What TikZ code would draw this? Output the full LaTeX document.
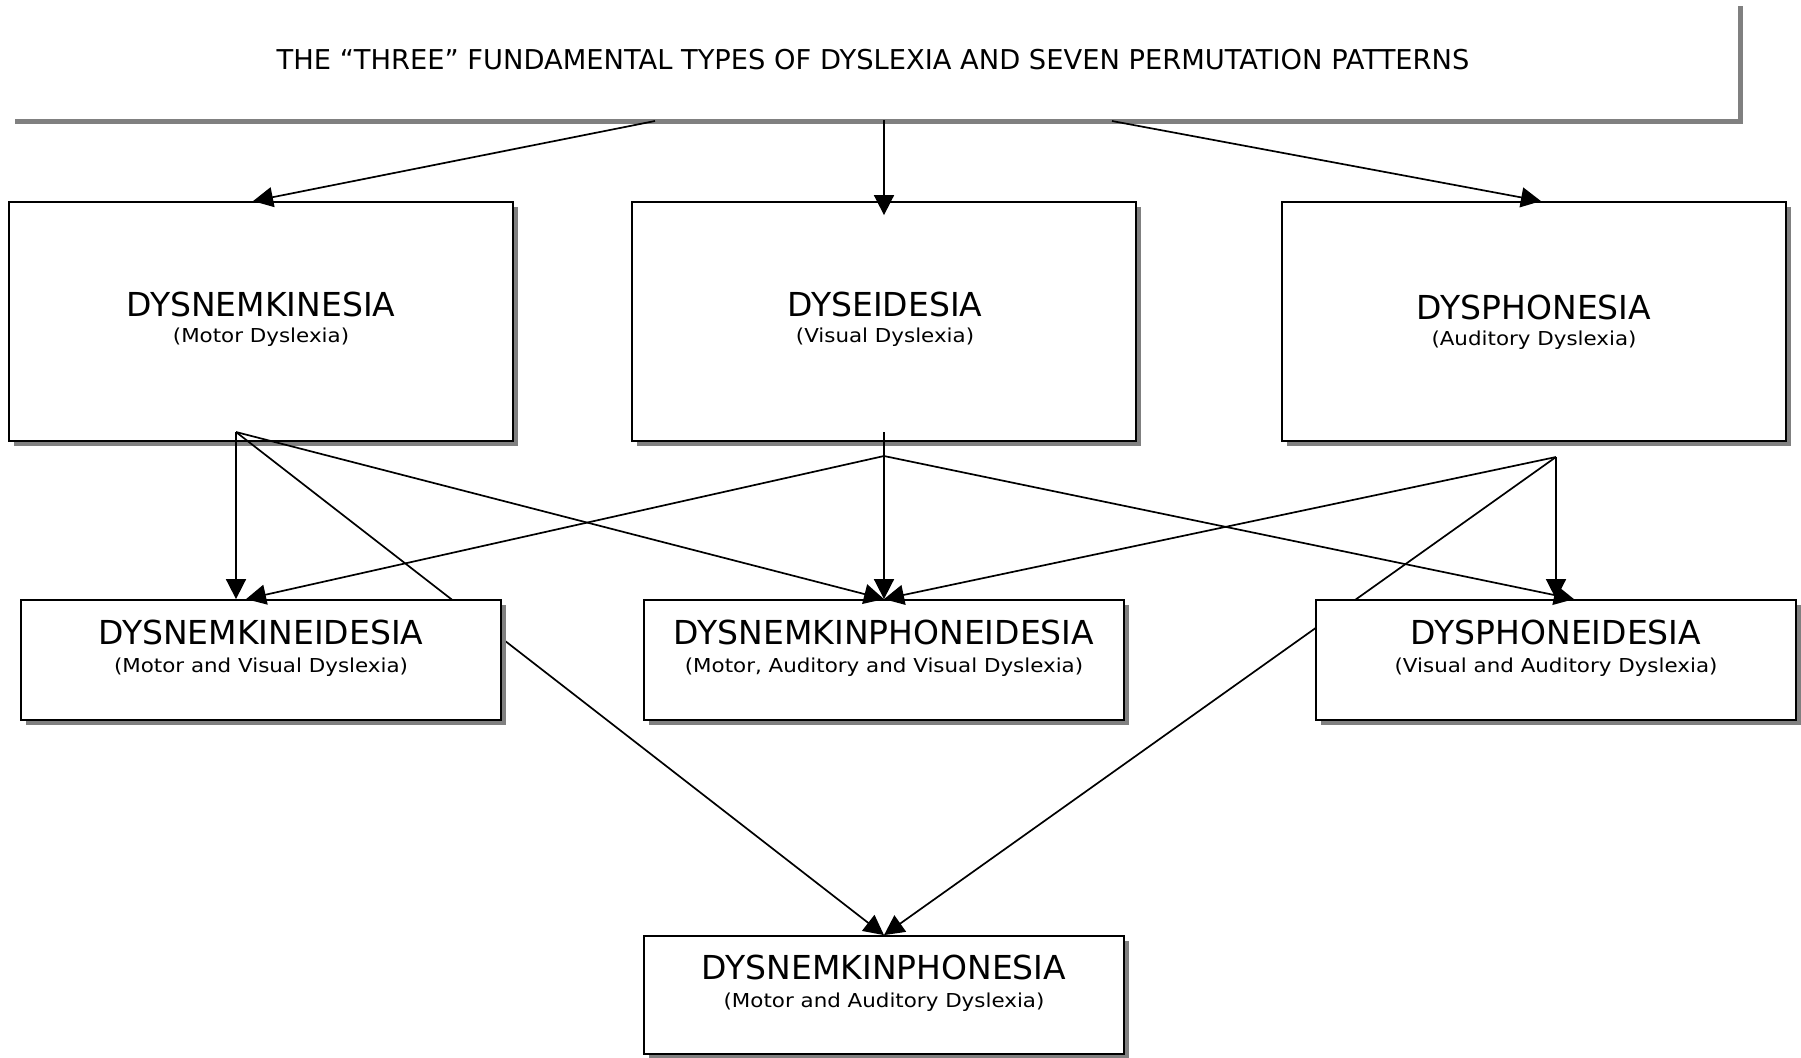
\documentclass[tikz,border=0pt]{standalone}
\usepackage{fontspec}
\setmainfont{DejaVu Sans}
\usepackage{graphicx}
\usetikzlibrary{arrows.meta,shadows}
\newcommand{\dxmain}[1]{{\fontsize{16.5pt}{19pt}\selectfont #1}}
\newcommand{\dxsub}[1]{\scalebox{1.115}[1]{\fontsize{9.6pt}{11pt}\selectfont #1}}
\begin{document}
\begin{tikzpicture}[x=0.5pt,y=-0.5pt,
  hardshadow/.style={drop shadow={shadow xshift=2.7pt, shadow yshift=-2.7pt, fill=gray, opacity=1}},
  box/.style={draw=black, line width=0.9pt, fill=white, inner sep=0pt, hardshadow},
  bigbox/.style={box, minimum width=252pt, minimum height=119.5pt},
  smallbox/.style={box, minimum width=240pt, minimum height=60pt},
  lbl/.style={anchor=base, inner sep=0pt},
  conn/.style={line width=0.85pt, -{Triangle[length=10pt,width=10pt]}}]
\useasboundingbox (0,0) rectangle (1801,1057);
% header
\node[fill=white, inner sep=0pt, minimum width=864pt, minimum height=59pt, hardshadow] (top) at (874,60) {};
\node[lbl, font=\fontsize{13.65pt}{16pt}\selectfont] (title) at (873,69) {THE “THREE” FUNDAMENTAL TYPES OF DYSLEXIA AND SEVEN PERMUTATION PATTERNS};
% first row
\node[bigbox] (A) at (261,321.5) {};
\node[bigbox] (B) at (884,321.5) {};
\node[bigbox] (C) at (1534,321.5) {};
\node[lbl] (Am) at (261,316) {\dxmain{DYSNEMKINESIA}};
\node[lbl] (As) at (261,342) {\dxsub{(Motor Dyslexia)}};
\node[lbl] (Bm) at (885,316) {\dxmain{DYSEIDESIA}};
\node[lbl] (Bs) at (885,342) {\dxsub{(Visual Dyslexia)}};
\node[lbl] (Cm) at (1534,319) {\dxmain{DYSPHONESIA}};
\node[lbl] (Cs) at (1534,345) {\dxsub{(Auditory Dyslexia)}};
% bottom box
\node[box, minimum width=240pt, minimum height=59pt] (G) at (884,995) {};
\node[lbl] (Gm) at (884,979) {\dxmain{DYSNEMKINPHONESIA}};
\node[lbl] (Gs) at (884,1007) {\dxsub{(Motor and Auditory Dyslexia)}};
% source points
\coordinate (tA) at (655,121);
\coordinate (tB) at (884,120);
\coordinate (tC) at (1112,121);
\coordinate (aS) at (236,432);
\coordinate (bS) at (884,432);
\coordinate (bB) at (884,456);
\coordinate (cS) at (1556,457);
% connectors passing behind the second row
\draw[conn] (aS) -- (G.north);
\draw[conn] (cS) -- (G.north);
% second row
\node[smallbox] (D) at (261,660) {};
\node[smallbox] (E) at (884,660) {};
\node[smallbox] (F) at (1556,660) {};
\node[lbl] (Dm) at (261,644) {\dxmain{DYSNEMKINEIDESIA}};
\node[lbl] (Ds) at (261,672) {\dxsub{(Motor and Visual Dyslexia)}};
\node[lbl] (Em) at (884,644) {\dxmain{DYSNEMKINPHONEIDESIA}};
\node[lbl] (Es) at (884,672) {\dxsub{(Motor, Auditory and Visual Dyslexia)}};
\node[lbl] (Fm) at (1556,644) {\dxmain{DYSPHONEIDESIA}};
\node[lbl] (Fs) at (1556,672) {\dxsub{(Visual and Auditory Dyslexia)}};
% connectors
\draw[conn] (tA) -- ([xshift=-4pt]A.north);
\draw[conn] (tB) -- ([yshift=-7pt]B.north);
\draw[conn] (tC) -- ([xshift=3.5pt]C.north);
\draw[conn] (aS) -- (aS |- D.north);
\draw[conn] (aS) -- (E.north);
\draw[conn] (bS) -- (E.north);
\draw[conn] (bB) -- ([xshift=-7.5pt]D.north);
\draw[conn] (bB) -- ([xshift=9pt]F.north);
\draw[conn] (cS) -- (E.north);
\draw[conn] (cS) -- (F.north);
\end{tikzpicture}
\end{document}
